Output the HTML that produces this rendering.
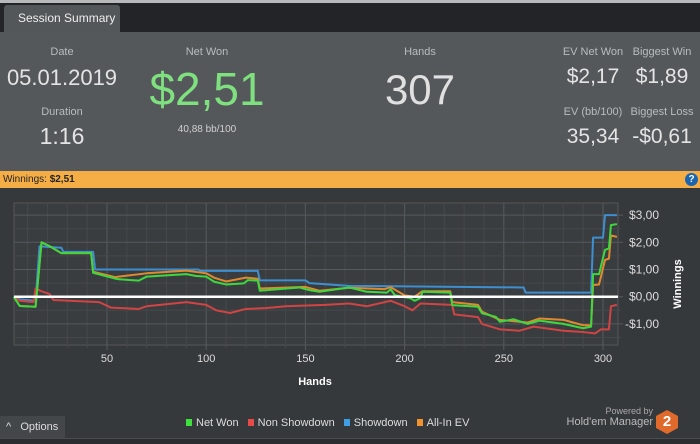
<!DOCTYPE html>
<html><head><meta charset="utf-8">
<style>
*{margin:0;padding:0;box-sizing:border-box}
body{width:700px;height:444px;overflow:hidden;background:#36393c;font-family:"Liberation Sans",sans-serif;position:relative}
.abs{position:absolute}
.lbl{color:#b9bcbf;font-size:11px;text-align:center}
.val{color:#e4e4e4;text-align:center}
</style></head><body>
<div class="abs" style="left:0;top:0;width:700px;height:3px;background:#b8b9ba"></div>
<div class="abs" style="left:0;top:3px;width:700px;height:29px;background:#222427"></div>
<div class="abs" style="left:4px;top:5px;width:116px;height:27px;background:#54575a;border-radius:3px 3px 0 0;color:#eee;font-size:12px;line-height:27px;padding-left:14px">Session Summary</div>
<div class="abs" style="left:0;top:32px;width:700px;height:139px;background:#55585b">
 <div class="abs lbl" style="left:22px;top:14px;width:80px">Date</div>
 <div class="abs val" style="left:0;top:33px;width:124px;font-size:22px">05.01.2019</div>
 <div class="abs lbl" style="left:22px;top:74px;width:80px">Duration</div>
 <div class="abs val" style="left:22px;top:91px;width:80px;font-size:23px">1:16</div>
 <div class="abs lbl" style="left:157px;top:14px;width:100px">Net Won</div>
 <div class="abs" style="left:137px;top:30px;width:140px;text-align:center;font-size:46px;color:#7fe07f">$2,51</div>
 <div class="abs lbl" style="left:157px;top:92px;width:100px;font-size:10px;color:#d0d0d0">40,88 bb/100</div>
 <div class="abs lbl" style="left:370px;top:14px;width:100px">Hands</div>
 <div class="abs" style="left:370px;top:34px;width:100px;text-align:center;font-size:42px;color:#e0e0e0">307</div>
 <div class="abs lbl" style="left:558px;top:14px;width:70px">EV Net Won</div>
 <div class="abs val" style="left:558px;top:33px;width:70px;font-size:21px">$2,17</div>
 <div class="abs lbl" style="left:626px;top:14px;width:72px">Biggest Win</div>
 <div class="abs val" style="left:626px;top:33px;width:72px;font-size:21px">$1,89</div>
 <div class="abs lbl" style="left:558px;top:74px;width:70px">EV (bb/100)</div>
 <div class="abs val" style="left:558px;top:93px;width:70px;font-size:21px">35,34</div>
 <div class="abs lbl" style="left:626px;top:74px;width:72px">Biggest Loss</div>
 <div class="abs val" style="left:626px;top:93px;width:72px;font-size:21px">-$0,61</div>
</div>
<div class="abs" style="left:0;top:171px;width:700px;height:17px;background:#f5ae45;font-size:10px;line-height:17px;padding-left:3px;color:#222">Winnings: <b>$2,51</b></div>
<div class="abs" style="left:685px;top:173px;width:13px;height:13px;border-radius:50%;background:#1a64b0;color:#fff;font-size:10px;font-weight:bold;text-align:center;line-height:13px">?</div>
<svg class="abs" id="chart" style="left:0;top:188px" width="700" height="200" viewBox="0 188 700 200"></svg>
<div class="abs" style="left:290px;top:376px;width:50px;text-align:center;color:#fff;font-size:11px;font-weight:bold">Hands</div>
<div class="abs" style="left:648px;top:278px;width:60px;text-align:center;color:#fff;font-size:11px;font-weight:bold;transform:rotate(-90deg)">Winnings</div>
<div class="abs" style="left:186px;top:417px;font-size:11px;color:#ddd;white-space:nowrap">
 <span><span style="display:inline-block;width:6px;height:7px;background:#3ee03e;margin-right:4px"></span>Net Won</span>
 <span style="margin-left:6px"><span style="display:inline-block;width:6px;height:7px;background:#e84a4a;margin-right:4px"></span>Non Showdown</span>
 <span style="margin-left:6px"><span style="display:inline-block;width:6px;height:7px;background:#3e9ee8;margin-right:4px"></span>Showdown</span>
 <span style="margin-left:6px"><span style="display:inline-block;width:6px;height:7px;background:#f0922e;margin-right:4px"></span>All-In EV</span>
</div>
<div class="abs" style="left:0;top:416px;width:65px;height:22px;background:#44474a;color:#ddd;font-size:11px;line-height:22px;padding-left:6px">^&nbsp;&nbsp;&nbsp;Options</div>
<div class="abs" style="left:560px;top:406px;width:93px;text-align:right;color:#aaa;font-size:9px;line-height:11px">Powered by<br><span style="font-size:11px;color:#bbb">Hold'em Manager</span></div>
<div class="abs" style="left:656px;top:410px;width:22px;height:24px;background:#e06a2c;clip-path:polygon(50% 0,100% 25%,100% 75%,50% 100%,0 75%,0 25%);color:#fff;font-weight:bold;font-size:15px;text-align:center;line-height:24px">2</div>
<div class="abs" style="left:0;top:438px;width:700px;height:6px;background:#2b2d30;border-top:1px solid #4a4d50"></div>
<script>
const xTicks=[50,100,150,200,250,300];
const yTicks=[3,2,1,0,-1];
const yTickLabels=["$3,00","$2,00","$1,00","$0,00","-$1,00"];
const netWonHands=[3,6,14,17,21,27,42,43,54,56,66,70,90,95,100,104,110,119,121,126,127,139,147,152,157,172,181,191,193,195,203,205,208,209,223,224,237,239,246,248,255,262,268,280,290,294,295,298,301,303,304,307];
const netWonValues=[0,-0.34,-0.37,2.0,1.86,1.6,1.6,0.88,0.67,0.64,0.59,0.74,0.83,0.76,0.74,0.55,0.45,0.49,0.61,0.59,0.22,0.29,0.34,0.24,0.18,0.34,0.18,0.15,0.27,0.06,-0.06,-0.15,-0.05,0.18,0.15,-0.31,-0.37,-0.61,-0.74,-0.92,-0.83,-1.0,-0.88,-1.0,-1.16,-1.1,0.83,0.83,1.72,1.78,2.63,2.67];
const nonShowdownHands=[3,6,13,14,17,21,23,46,52,66,70,90,100,105,112,120,130,140,160,172,181,190,193,200,204,208,224,225,237,239,248,258,265,280,290,296,299,303,304,307];
const nonShowdownValues=[0,-0.15,-0.2,0.3,0.2,0.1,-0.12,-0.2,-0.4,-0.45,-0.35,-0.2,-0.3,-0.5,-0.6,-0.45,-0.42,-0.35,-0.3,-0.25,-0.35,-0.2,-0.15,-0.35,-0.5,-0.25,-0.3,-0.65,-0.75,-1.0,-1.2,-1.25,-1.1,-1.25,-1.3,-1.35,-1.2,-1.2,-0.35,-0.3];
const showdownHands=[3,6,14,16,27,28,43,44,96,97,126,127,150,152,172,260,261,294,295,300,301,307];
const showdownValues=[0,-0.1,-0.15,1.85,1.8,1.65,1.65,1.0,1.0,0.95,0.95,0.6,0.6,0.5,0.4,0.34,0.15,0.15,2.17,2.17,3.0,3.0];
const allInHands=[3,6,14,17,21,27,42,43,54,70,90,100,104,110,120,126,127,150,157,172,190,193,200,205,209,223,224,237,239,248,262,268,280,290,294,295,298,301,303,304,307];
const allInValues=[0,-0.34,-0.37,2.0,1.86,1.6,1.6,0.92,0.72,0.86,0.96,0.86,0.7,0.56,0.7,0.66,0.3,0.36,0.22,0.33,0.28,0.35,0.05,0.0,0.2,0.2,-0.2,-0.3,-0.55,-0.85,-0.95,-0.8,-0.85,-1.05,-1.05,0.43,0.45,1.35,1.4,2.25,2.2];

const svg=document.getElementById('chart');
const NS='http://www.w3.org/2000/svg';
const L=14,R=618,T=203,B=345;
const xs=h=>107+(h-50)*1.984;
const ys=v=>296.7-v*27.2;
function mk(tag,attrs){const e=document.createElementNS(NS,tag);for(const k in attrs)e.setAttribute(k,attrs[k]);svg.appendChild(e);return e;}
const bg=mk('rect',{x:L,y:T,width:R-L,height:B-T,fill:'#3a3d40',stroke:'#555',"stroke-width":1});


for(let h=10;h<=310;h+=10){const x=xs(h);if(x<L||x>R)continue;const g=mk('line',{x1:x,x2:x,y1:T,y2:B+(h%50?3:5),stroke:h%50?'#45484b':'#555a5e',"stroke-width":1});

}
for(let v=-1.5;v<=3.5;v+=0.5){const y=ys(v);if(y<T||y>B)continue;const g=mk('line',{x1:L,x2:R+(Number.isInteger(v)?5:3),y1:y,y2:y,stroke:Number.isInteger(v)?'#555a5e':'#45484b',"stroke-width":1});

}
xTicks.forEach(t=>{const e=mk('text',{x:xs(t),y:362,fill:'#ddd',"font-size":11,"text-anchor":"middle","font-family":"Liberation Sans"});e.textContent=t;

});
yTicks.forEach((t,i)=>{const e=mk('text',{x:t<0?625:629,y:ys(t)+4,fill:'#ddd',"font-size":12,"text-anchor":"start","font-family":"Liberation Sans"});e.textContent=yTickLabels[i];

});
function series(hs,vs,color,name){const p=mk('polyline',{points:hs.map((h,i)=>xs(h)+','+ys(vs[i])).join(' '),fill:'none',stroke:color,"stroke-width":2,"stroke-linejoin":"round"});

}
series(showdownHands,showdownValues,'#3e8fd0','showdown-line');
series(nonShowdownHands,nonShowdownValues,'#d04444','non-showdown-line');
series(allInHands,allInValues,'#e08a30','all-in-ev-line');
series(netWonHands,netWonValues,'#3ed83e','net-won-line');
const z=mk('line',{x1:L,x2:R,y1:ys(0),y2:ys(0),stroke:'#fff',"stroke-width":2.5});


</script>
</body></html>
